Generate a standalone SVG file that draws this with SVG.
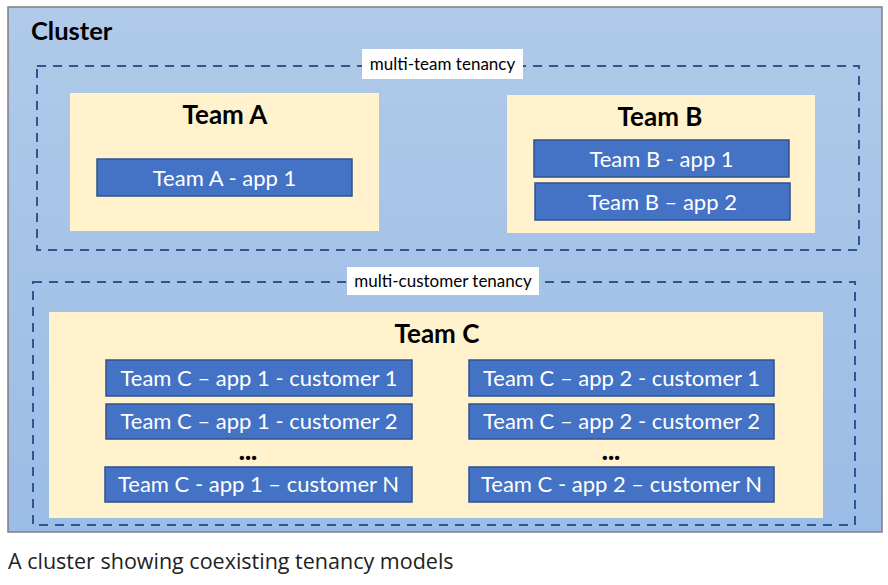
<svg xmlns="http://www.w3.org/2000/svg" width="888" height="585" viewBox="0 0 888 585">
<defs>
<linearGradient id="bg" x1="0" y1="0" x2="0" y2="1">
<stop offset="0" stop-color="#b0cae8"/>
<stop offset="1" stop-color="#9bbce6"/>
</linearGradient>
</defs>
<style>
.tenancy{fill:none;stroke:#2f5597;stroke-width:2;stroke-dasharray:9 7}
.lblbox{fill:#ffffff}
.lbl{font-family:Lato,"Liberation Sans",sans-serif;font-size:17px;fill:#000;text-anchor:middle}
.team{fill:#fff2cc}
.teamt{font-family:Lato,"Liberation Sans",sans-serif;font-weight:bold;font-size:26px;fill:#000;text-anchor:middle}
.app{fill:#4472c4;stroke:#2f528f;stroke-width:1.5}
.appt{font-family:Lato,"Liberation Sans",sans-serif;font-size:22px;fill:#fff;text-anchor:middle}
.dots{font-family:Lato,"Liberation Sans",sans-serif;font-weight:900;font-size:26px;fill:#000;text-anchor:middle}
</style>
<rect width="888" height="585" fill="#ffffff"/>
<g id="cluster">
<rect x="8" y="7" width="874" height="525" fill="url(#bg)" stroke="#7f7f7f" stroke-width="1.5"/>
<text x="31" y="40" font-family="Lato,'Liberation Sans',sans-serif" font-weight="bold" font-size="25.5" fill="#000">Cluster</text>
</g>
<g id="multi-team-tenancy">
<rect class="tenancy" x="37" y="66" width="822" height="184"/>
<rect class="lblbox" x="362" y="49" width="161" height="30"/>
<text class="lbl" x="442.5" y="70">multi-team tenancy</text>
</g>
<g id="team-a">
<rect class="team" x="70" y="93" width="309" height="138"/>
<text class="teamt" x="225" y="124">Team A</text>
</g>
<g id="team-a-app1">
<rect class="app" x="97" y="159" width="255" height="37"/>
<text class="appt" x="224.5" y="186">Team A - app 1</text>
</g>
<g id="team-b">
<rect class="team" x="507" y="95" width="308" height="138"/>
<text class="teamt" x="660" y="126">Team B</text>
</g>
<g id="team-b-app1">
<rect class="app" x="534" y="140" width="255" height="37"/>
<text class="appt" x="661.5" y="167">Team B - app 1</text>
</g>
<g id="team-b-app2">
<rect class="app" x="535" y="183" width="255" height="37"/>
<text class="appt" x="662.5" y="210">Team B – app 2</text>
</g>
<g id="multi-customer-tenancy">
<rect class="tenancy" x="33" y="282" width="822" height="243"/>
<rect class="lblbox" x="347" y="267" width="192" height="28"/>
<text class="lbl" x="443" y="287">multi-customer tenancy</text>
</g>
<g id="team-c">
<rect class="team" x="49" y="312" width="774" height="206"/>
<text class="teamt" x="437" y="343">Team C</text>
<text class="dots" x="248" y="460">...</text>
<text class="dots" x="611" y="460">...</text>
</g>
<g id="c-app1-cust1">
<rect class="app" x="106" y="360" width="306" height="36"/>
<text class="appt" x="259" y="386">Team C – app 1 - customer 1</text>
</g>
<g id="c-app1-cust2">
<rect class="app" x="106" y="404" width="306" height="35"/>
<text class="appt" x="259" y="429">Team C – app 1 - customer 2</text>
</g>
<g id="c-app1-custN">
<rect class="app" x="105" y="467" width="307" height="35"/>
<text class="appt" x="258.5" y="492">Team C - app 1 – customer N</text>
</g>
<g id="c-app2-cust1">
<rect class="app" x="469" y="360" width="305" height="36"/>
<text class="appt" x="621.5" y="386">Team C – app 2 - customer 1</text>
</g>
<g id="c-app2-cust2">
<rect class="app" x="469" y="404" width="305" height="35"/>
<text class="appt" x="621.5" y="429">Team C – app 2 - customer 2</text>
</g>
<g id="c-app2-custN">
<rect class="app" x="469" y="467" width="305" height="35"/>
<text class="appt" x="621.5" y="492">Team C - app 2 – customer N</text>
</g>
<g id="connectors"></g>
<text x="8" y="569" font-family="'Open Sans','Liberation Sans',sans-serif" font-size="21.5" fill="#222">A cluster showing coexisting tenancy models</text>
</svg>
